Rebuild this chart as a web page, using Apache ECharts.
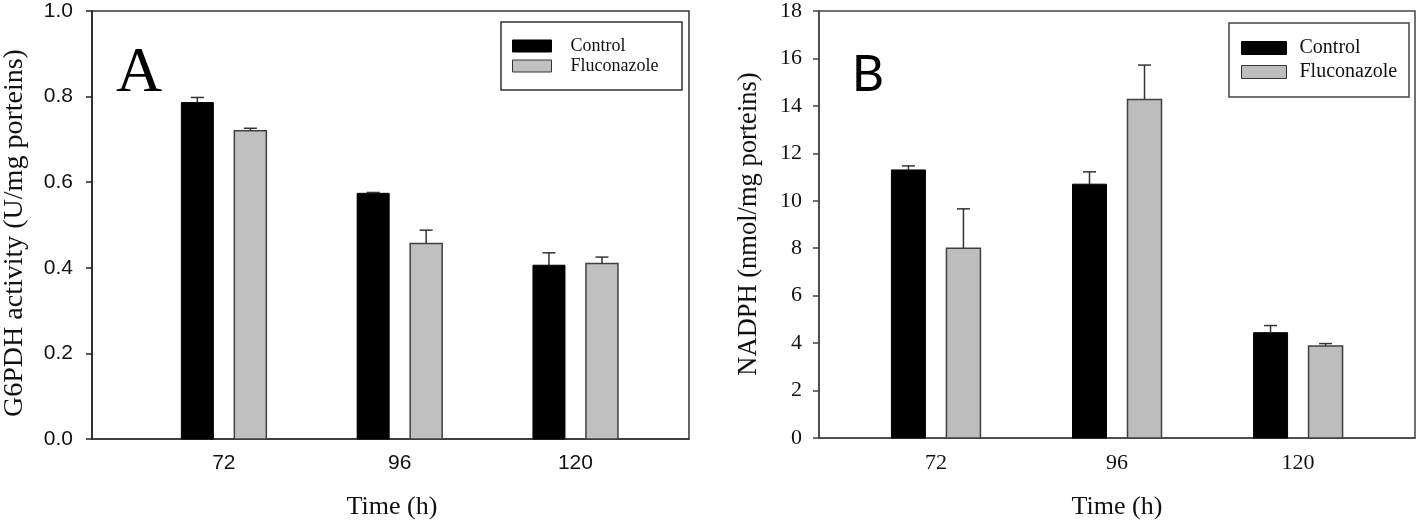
<!DOCTYPE html>
<html><head><meta charset="utf-8">
<script src="https://cdn.jsdelivr.net/npm/echarts@6/dist/echarts.min.js"></script>
<style>html,body{margin:0;padding:0;background:#fff}#c{width:1418px;height:523px}</style>
</head><body><div id="c"></div>
<script>
// ---- data ----
const times = [72, 96, 120];
const seriesNames = ['Control', 'Fluconazole'];
const g6pdhControl = [0.786, 0.574, 0.406];
const g6pdhControlErr = [0.012, 0.002, 0.029];
const g6pdhFluc = [0.720, 0.457, 0.410];
const g6pdhFlucErr = [0.006, 0.031, 0.015];
const nadphControl = [11.30, 10.70, 4.44];
const nadphControlErr = [0.17, 0.52, 0.30];
const nadphFluc = [8.00, 14.27, 3.88];
const nadphFlucErr = [1.66, 1.45, 0.10];
const yTitleA = 'G6PDH activity (U/mg porteins)';
const yTitleB = 'NADPH (nmol/mg porteins)';
const xTitle = 'Time (h)';

// ---- helpers ----
function rows(vals, errs) { return times.map((t, i) => [t, vals[i], errs[i]]); }
function makeRender(offsetPx, widthPx, fill, stroke, lw) {
  return function (params, api) {
    const x = api.value(0), y = api.value(1), e = api.value(2);
    const top = api.coord([x, y]);
    const base = api.coord([x, 0]);
    const et = api.coord([x, y + e]);
    const cx = top[0] + offsetPx;
    const ch = [{
      type: 'rect',
      shape: { x: cx - widthPx / 2, y: top[1], width: widthPx, height: base[1] - top[1] },
      style: { fill: fill, stroke: stroke, lineWidth: lw }
    }];
    if (e > 0) {
      ch.push({ type: 'line', shape: { x1: cx, y1: top[1], x2: cx, y2: et[1] }, style: { stroke: '#333', lineWidth: 1.5 } });
      ch.push({ type: 'line', shape: { x1: cx - 6.5, y1: et[1], x2: cx + 6.5, y2: et[1] }, style: { stroke: '#333', lineWidth: 1.5 } });
    }
    return { type: 'group', children: ch };
  };
}
const serif = '"Liberation Serif", "Times New Roman", serif';
const sans = '"Liberation Sans", Arial, sans-serif';
const fillC = '#000000', fillF = '#c0c0c0', fillFB = '#bdbdbd';

const chart = echarts.init(document.getElementById('c'), null, { renderer: 'canvas' });
chart.setOption({
  animation: false,
  backgroundColor: '#fff',
  grid: [
    { left: 92, top: 11, width: 597, height: 428, show: true, borderColor: '#333', borderWidth: 1.5, backgroundColor: 'transparent' },
    { left: 819, top: 10, width: 596, height: 428, show: true, borderColor: '#444', borderWidth: 1.5, backgroundColor: 'transparent' }
  ],
  xAxis: [
    { type: 'value', gridIndex: 0, min: 54, max: 135.5,
      axisLine: { lineStyle: { color: '#333', width: 1.5 } }, axisTick: { show: false }, splitLine: { show: false },
      axisLabel: { customValues: times, margin: 14, color: '#111', fontFamily: sans, fontSize: 21 } },
    { type: 'value', gridIndex: 1, min: 56.5, max: 135.5,
      axisLine: { lineStyle: { color: '#444', width: 1.5 } }, axisTick: { show: false }, splitLine: { show: false },
      axisLabel: { customValues: times, margin: 14, color: '#111', fontFamily: serif, fontSize: 22 } }
  ],
  yAxis: [
    { type: 'value', gridIndex: 0, min: 0, max: 1, interval: 0.2,
      axisLine: { show: true, lineStyle: { color: '#222', width: 1.5 } },
      axisTick: { show: true, length: 6, lineStyle: { color: '#222', width: 1.5 } },
      splitLine: { show: false },
      axisLabel: { margin: 19, color: '#111', fontFamily: sans, fontSize: 21, formatter: v => v.toFixed(1) } },
    { type: 'value', gridIndex: 1, min: 0, max: 18, interval: 2,
      axisLine: { show: true, lineStyle: { color: '#444', width: 1.5 } },
      axisTick: { show: true, length: 6, lineStyle: { color: '#444', width: 1.5 } },
      splitLine: { show: false },
      axisLabel: { margin: 17, color: '#111', fontFamily: serif, fontSize: 22 } }
  ],
  legend: [
    { left: 512, top: 36, orient: 'vertical', itemGap: 0, itemWidth: 39, itemHeight: 12, icon: 'rect', padding: 0,
      selectedMode: false,
      textStyle: { fontFamily: serif, fontSize: 18, lineHeight: 20, color: '#111', padding: [0, 0, 0, 14] },
      data: [
        { name: seriesNames[0], itemStyle: { color: fillC, borderColor: '#000', borderWidth: 1 } },
        { name: seriesNames[1], itemStyle: { color: fillF, borderColor: '#333', borderWidth: 1 } }
      ] },
    { left: 1241, top: 36, orient: 'vertical', itemGap: 0, itemWidth: 45, itemHeight: 13, icon: 'rect', padding: 0,
      selectedMode: false,
      textStyle: { fontFamily: serif, fontSize: 20, lineHeight: 24, color: '#111', padding: [0, 0, 0, 8] },
      data: [
        { name: seriesNames[0], itemStyle: { color: fillC, borderColor: '#000', borderWidth: 1 } },
        { name: seriesNames[1], itemStyle: { color: fillFB, borderColor: '#333', borderWidth: 1 } }
      ] }
  ],
  series: [
    { type: 'custom', name: seriesNames[0], xAxisIndex: 0, yAxisIndex: 0, itemStyle: { color: fillC },
      renderItem: makeRender(-26.5, 32, fillC, '#000', 1), data: rows(g6pdhControl, g6pdhControlErr) },
    { type: 'custom', name: seriesNames[1], xAxisIndex: 0, yAxisIndex: 0, itemStyle: { color: fillF },
      renderItem: makeRender(26.5, 32, fillF, '#404040', 1.5), data: rows(g6pdhFluc, g6pdhFlucErr) },
    { type: 'custom', name: seriesNames[0], xAxisIndex: 1, yAxisIndex: 1, itemStyle: { color: fillC },
      renderItem: makeRender(-27.5, 34, fillC, '#000', 1), data: rows(nadphControl, nadphControlErr) },
    { type: 'custom', name: seriesNames[1], xAxisIndex: 1, yAxisIndex: 1, itemStyle: { color: fillFB },
      renderItem: makeRender(27.5, 34, fillFB, '#404040', 1.5), data: rows(nadphFluc, nadphFlucErr) }
  ],
  graphic: [
    { type: 'rect', shape: { x: 501, y: 22, width: 181, height: 68 }, style: { fill: 'none', stroke: '#333', lineWidth: 1.5 } },
    { type: 'rect', shape: { x: 1229, y: 23, width: 180, height: 74 }, style: { fill: 'none', stroke: '#444', lineWidth: 1.5 } },
    { type: 'text', x: 139, y: 74, style: { text: 'A', font: '64px ' + serif, fill: '#000', align: 'center', verticalAlign: 'middle' } },
    { type: 'text', x: 868, y: 75, style: { text: 'B', font: '50px Lato, "Open Sans", sans-serif', fill: '#000', align: 'center', verticalAlign: 'middle' } },
    { type: 'text', x: 15, y: 233, rotation: Math.PI / 2, style: { text: yTitleA, font: '28px ' + serif, fill: '#111', align: 'center', verticalAlign: 'middle' } },
    { type: 'text', x: 749, y: 224, rotation: Math.PI / 2, style: { text: yTitleB, font: '26.5px ' + serif, fill: '#111', align: 'center', verticalAlign: 'middle' } },
    { type: 'text', x: 392, y: 507, style: { text: xTitle, font: '26px ' + serif, fill: '#111', align: 'center', verticalAlign: 'middle' } },
    { type: 'text', x: 1117, y: 507, style: { text: xTitle, font: '26px ' + serif, fill: '#111', align: 'center', verticalAlign: 'middle' } }
  ]
});
</script></body></html>
